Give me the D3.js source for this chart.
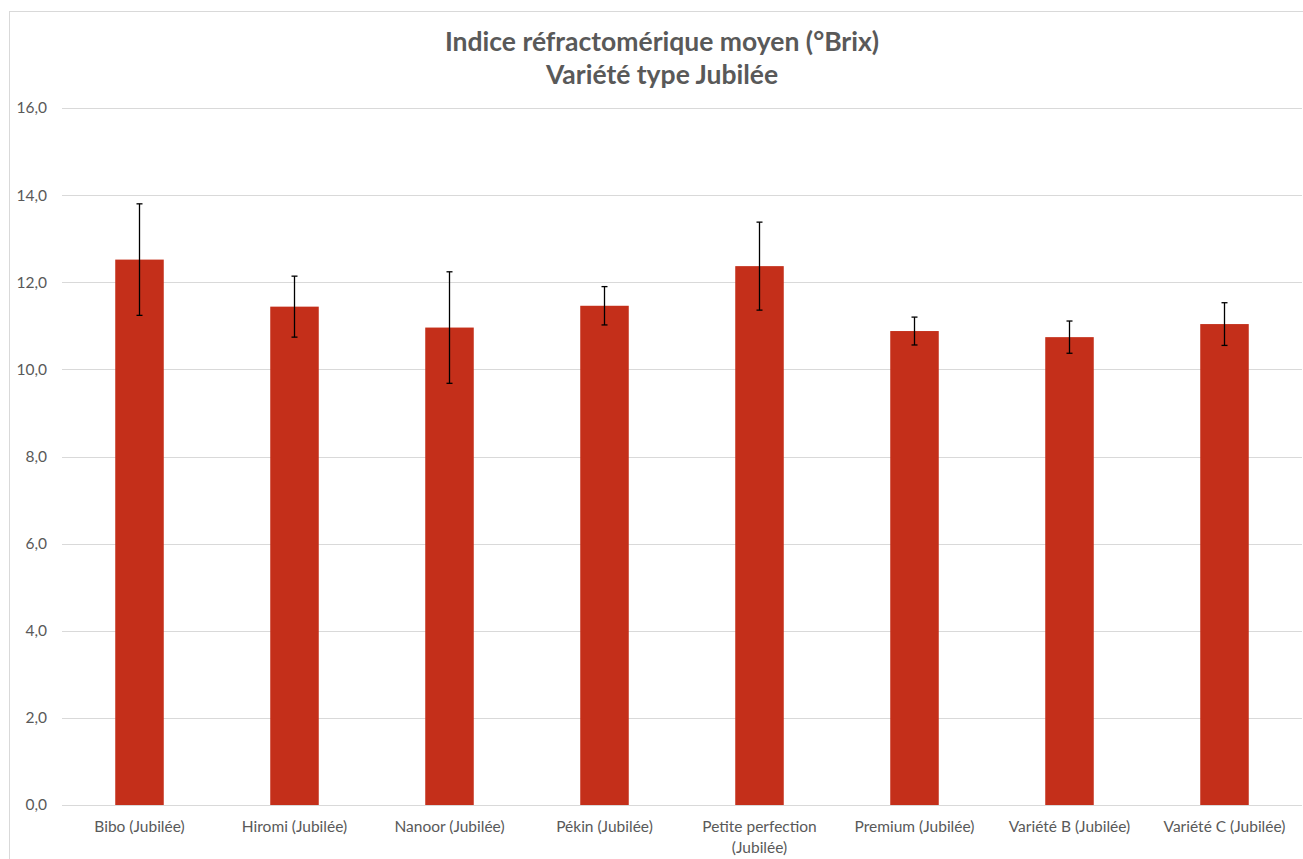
<!DOCTYPE html>
<html><head><meta charset="utf-8">
<script src="https://cdn.jsdelivr.net/npm/d3@7"></script>
<style>
html,body{margin:0;padding:0;background:#fff;}
svg{display:block;}
text{font-family:Lato,"Open Sans",sans-serif;}
</style></head>
<body>
<svg id="chart" width="1303" height="859"></svg>
<script>
const categories = ["Bibo (Jubilée)","Hiromi (Jubilée)","Nanoor (Jubilée)","Pékin (Jubilée)","Petite perfection (Jubilée)","Premium (Jubilée)","Variété B (Jubilée)","Variété C (Jubilée)"];
const means = [12.52, 11.44, 10.96, 11.46, 12.37, 10.88, 10.74, 11.04];
const errors = [1.28, 0.70, 1.28, 0.44, 1.01, 0.32, 0.37, 0.49];
const yTicks = [0,2,4,6,8,10,12,14,16];
const titleLines = ["Indice réfractomérique moyen (°Brix)","Variété type Jubilée"];

(function(){
const svg = d3.select("#chart");
const pLeft = 62, pRight = 1302, pTop = 108, pBottom = 805;
const fs = "15.5px";

svg.append("rect").attr("x",9.5).attr("y",11.5).attr("width",1303).attr("height",859)
  .attr("fill","#fff").attr("stroke","#d9d9d9").attr("stroke-width",1);

const x = d3.scaleBand().domain(categories).range([pLeft,pRight]).paddingInner(0.687).paddingOuter(0.3435);
const y = d3.scaleLinear().domain([0,16]).range([pBottom,pTop]);

const fmt = d => d3.format(".1f")(d).replace(".",",");

// gridlines
svg.append("g").selectAll("line").data(yTicks).join("line")
  .attr("x1",pLeft).attr("x2",pRight)
  .attr("y1",d=>Math.round(y(d))+0.5).attr("y2",d=>Math.round(y(d))+0.5)
  .attr("stroke","#d9d9d9").attr("stroke-width",1);

// y axis labels
const yAxis = d3.axisLeft(y).tickValues(yTicks).tickFormat(fmt).tickSize(0).tickPadding(15);
const yg = svg.append("g").attr("transform",`translate(${pLeft},0)`).call(yAxis);
yg.select(".domain").remove();
yg.selectAll("text").attr("fill","#595959").style("font-size",fs).style("font-family","Lato,'Open Sans',sans-serif");

// bars
svg.append("g").selectAll("rect").data(categories).join("rect")
  .attr("x",d=>x(d)).attr("width",x.bandwidth())
  .attr("y",(d,i)=>y(means[i])).attr("height",(d,i)=>y(0)-y(means[i]))
  .attr("fill","#c42f1a");

// error bars
const eg = svg.append("g").attr("stroke","#000").attr("stroke-width",1.3);
categories.forEach((c,i)=>{
  const cx = x(c)+x.bandwidth()/2;
  const y1 = y(means[i]+errors[i]), y2 = y(means[i]-errors[i]);
  eg.append("line").attr("x1",cx).attr("x2",cx).attr("y1",y1).attr("y2",y2);
  eg.append("line").attr("x1",cx-3).attr("x2",cx+3).attr("y1",y1).attr("y2",y1);
  eg.append("line").attr("x1",cx-3).attr("x2",cx+3).attr("y1",y2).attr("y2",y2);
});

// x axis labels
const xAxis = d3.axisBottom(x).tickSize(0).tickPadding(0);
const xg = svg.append("g").attr("transform",`translate(0,${pBottom})`).call(xAxis);
xg.select(".domain").remove();
xg.selectAll("text").each(function(d){
  const t = d3.select(this);
  t.text(null).attr("fill","#595959").style("font-size",fs).attr("y",0).attr("dy",null)
   .style("font-family","Lato,'Open Sans',sans-serif");
  let lines = [d];
  if (d === "Petite perfection (Jubilée)") lines = ["Petite perfection","(Jubilée)"];
  lines.forEach((l,k)=>{
    t.append("tspan").attr("x",0).attr("y",27 + k*21).text(l);
  });
});

// title
const tg = svg.append("text").attr("text-anchor","middle").attr("fill","#595959")
  .style("font-size","26.5px").style("font-weight","bold");
titleLines.forEach((l,k)=>{
  tg.append("tspan").attr("x",662).attr("y",51+k*33).text(l);
});
})();
</script>
</body></html>
